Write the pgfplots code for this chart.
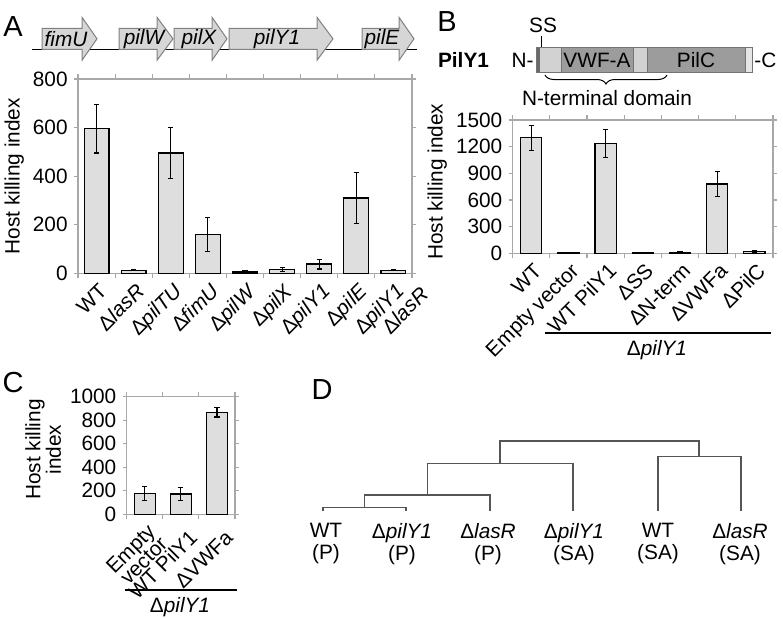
\documentclass[border=0pt]{standalone}
\usepackage{fontspec}
\setmainfont{Liberation Sans}
\usepackage{pgfplots}
\usepackage{pgfplotstable}
\pgfplotsset{compat=1.18}
\usetikzlibrary{decorations.pathreplacing}
\newcommand\tf{\fontsize{10.4}{11.2}\selectfont}
\newcommand\D{Δ}
\newcommand\lo[1]{\raisebox{-4pt}[\height][\depth]{#1}}
\definecolor{barfill}{HTML}{DEDEDE}
\definecolor{frame}{HTML}{A8A8A8}
\definecolor{dend}{HTML}{555555}
\definecolor{genefill}{HTML}{D6D6D6}
\definecolor{dom}{HTML}{9C9C9C}
\definecolor{domlight}{HTML}{D2D2D2}
\definecolor{domend}{HTML}{E6E6E6}
\definecolor{ssdark}{HTML}{6A6A6A}

\pgfplotstableread{
x y e
0 595 100
1 13 3
2 495 105
3 160 70
4 5 6
5 17 8
6 38 20
7 310 105
8 13 3
}\dataA
\pgfplotstableread{
x y e
0 1300 140
1 5 4
2 1235 155
3 3 3
4 12 5
5 780 140
6 18 10
}\dataB
\pgfplotstableread{
x y e
0 178 58
1 172 55
2 867 40
}\dataC

\pgfplotsset{
  panel/.style={
    scale only axis, clip=false,
    ymin=0, axis line style={draw=frame, line width=0.6pt},
    ybar, bar shift=0pt,
    /pgf/number format/assume math mode=true,
    /pgf/number format/1000 sep={},
    scaled y ticks=false,
    tick align=outside, major tick length=2pt, minor tick length=2.5pt,
    major x tick style={draw=none},
    minor x tick style={draw=frame, line width=0.6pt},
    y tick style={draw=frame, line width=0.6pt},
    yticklabel style={font=\tf, inner sep=1pt, xshift=-2pt},
    xticklabel style={font=\tf, rotate=45, anchor=north east, align=right, inner sep=1pt, yshift=-1pt},
    ylabel style={font=\tf},
    ymajorgrids=false,
  },
  barplot/.style={fill=barfill, draw=black, line width=0.6pt,
    error bars/.cd, y dir=both, y explicit,
    error bar style={black, line width=0.6pt},
    error mark options={rotate=90, mark size=1.3pt, black, line width=0.6pt}},
}

\begin{document}
\begin{tikzpicture}
\path[use as bounding box] (0,0) rectangle (391.5pt,308.5pt);

% ---------- background axis in pixel coordinates (diagrams, dendrogram) ----------
\begin{axis}[
  at={(0,0)}, anchor=south west, scale only axis,
  width=391.5pt, height=308.5pt,
  xmin=0, xmax=783, ymin=0, ymax=617, y dir=reverse,
  hide axis, clip=false]
% panel letters
\node[font=\fontsize{14.5}{16}\selectfont] at (axis cs:13,27) {A};
\node[font=\fontsize{14.5}{16}\selectfont] at (axis cs:447,22) {B};
\node[font=\fontsize{14.5}{16}\selectfont] at (axis cs:13,383) {C};
\node[font=\fontsize{14.5}{16}\selectfont] at (axis cs:322,390) {D};

% gene map
\addplot[black, line width=0.6pt, forget plot] coordinates {(32,49.5) (417,49.5)};
\addplot[fill=genefill, draw=gray, line width=0.5pt] coordinates {(42,28.3) (82,28.3) (82,17.3) (97,38.8) (82,60.3) (82,49.3) (42,49.3)} -- cycle;
\addplot[fill=genefill, draw=gray, line width=0.5pt] coordinates {(119,28.3) (157,28.3) (157,17.3) (173,38.8) (157,60.3) (157,49.3) (119,49.3)} -- cycle;
\addplot[fill=genefill, draw=gray, line width=0.5pt] coordinates {(174,28.3) (212,28.3) (212,17.3) (227,38.8) (212,60.3) (212,49.3) (174,49.3)} -- cycle;
\addplot[fill=genefill, draw=gray, line width=0.5pt] coordinates {(229,28.3) (317,28.3) (317,17.3) (333,38.8) (317,60.3) (317,49.3) (229,49.3)} -- cycle;
\addplot[fill=genefill, draw=gray, line width=0.5pt] coordinates {(362,28.3) (399,28.3) (399,17.3) (414,38.8) (399,60.3) (399,49.3) (362,49.3)} -- cycle;
\node[font=\tf\itshape] at (axis cs:66,39) {fimU};
\node[font=\tf\itshape] at (axis cs:144,39) {pilW};
\node[font=\tf\itshape] at (axis cs:199,39) {pilX};
\node[font=\tf\itshape] at (axis cs:277,39) {pilY1};
\node[font=\tf\itshape] at (axis cs:382,39) {pilE};

% PilY1 domain diagram
\addplot[fill=ssdark, draw=none] coordinates {(536,47) (540,47) (540,72) (536,72)} -- cycle;
\addplot[fill=domlight, draw=none] coordinates {(540,47) (561,47) (561,72) (540,72)} -- cycle;
\addplot[fill=dom, draw=none] coordinates {(561,47) (633,47) (633,72) (561,72)} -- cycle;
\addplot[fill=domlight, draw=none] coordinates {(633,47) (647,47) (647,72) (633,72)} -- cycle;
\addplot[fill=dom, draw=none] coordinates {(647,47) (745,47) (745,72) (647,72)} -- cycle;
\addplot[fill=domend, draw=none] coordinates {(745,47) (752,47) (752,72) (745,72)} -- cycle;
\addplot[draw=gray!90!black, line width=0.5pt] coordinates {(536,47) (752,47) (752,72) (536,72)} -- cycle;
\addplot[draw=gray!90!black, line width=0.5pt] coordinates {(561,47) (561,72)};
\addplot[draw=gray!90!black, line width=0.5pt] coordinates {(633,47) (633,72)};
\addplot[draw=gray!90!black, line width=0.5pt] coordinates {(647,47) (647,72)};
\addplot[draw=gray!90!black, line width=0.5pt] coordinates {(745,47) (745,72)};
\addplot[draw=black, line width=0.5pt] coordinates {(541,36) (541,47)};
\node[font=\tf] at (axis cs:543,25) {SS};
\node[font=\tf\bfseries, anchor=east] at (axis cs:496,60) {PilY1};
\node[font=\tf, anchor=east, inner sep=0pt] at (axis cs:534,60) {N-};
\node[font=\tf, anchor=west, inner sep=0pt] at (axis cs:754,60) {-C};
\node[font=\tf] at (axis cs:597,60) {VWF-A};
\node[font=\tf] at (axis cs:696,60) {PilC};
\draw[decorate, decoration={brace, mirror, amplitude=4.5pt}, line width=0.5pt] (axis cs:545,75) -- (axis cs:667,75);
\node[font=\tf] at (axis cs:607,98) {N-terminal domain};

% group lines under B and C
\addplot[black, line width=0.8pt] coordinates {(545,332.7) (771,332.7)};
\node[font=\tf] at (axis cs:657,350) {\D\textit{pilY1}};
\addplot[black, line width=0.8pt] coordinates {(125,590) (237,590)};
\node[font=\tf] at (axis cs:180,607) {\D\textit{pilY1}};

% dendrogram (panel D)
\addplot[dend, line width=0.7pt] coordinates {(323,511) (323,507.3) (406,507.3) (406,511)};
\addplot[dend, line width=0.7pt] coordinates {(364.3,507.3) (364.3,495) (490,495) (490,511)};
\addplot[dend, line width=0.7pt] coordinates {(427.3,495) (427.3,463.3) (573,463.3) (573,511)};
\addplot[dend, line width=0.7pt] coordinates {(658,511) (658,456.7) (741,456.7) (741,511)};
\addplot[dend, line width=0.7pt] coordinates {(500,463.3) (500,441) (699,441) (699,456.7)};
\node[font=\tf, align=center, anchor=north] at (axis cs:326,516) {WT\\(P)};
\node[font=\tf, align=center, anchor=north] at (axis cs:402,516) {\D\textit{pilY1}\\(P)};
\node[font=\tf, align=center, anchor=north] at (axis cs:488,516) {\D\textit{lasR}\\(P)};
\node[font=\tf, align=center, anchor=north] at (axis cs:574,516) {\D\textit{pilY1}\\(SA)};
\node[font=\tf, align=center, anchor=north] at (axis cs:658,516) {WT\\(SA)};
\node[font=\tf, align=center, anchor=north] at (axis cs:740,516) {\D\textit{lasR}\\(SA)};
\end{axis}

% ---------- Panel A ----------
\begin{axis}[panel,
  at={(39pt,171.85pt)}, anchor=south west,
  width=167pt, height=97.15pt,
  xmin=-0.5, xmax=8.5, ymax=800, ytick={0,200,...,800},
  bar width=0.67,
  xtick={0,...,8},
  minor xtick={-0.5,0.5,...,8.5},
  xticklabels={WT, \D\textit{lasR}, \D\textit{pilTU}, \D\textit{fimU}, \D\textit{pilW}, \D\textit{pilX}, \D\textit{pilY1}, \D\textit{pilE}, {\D\textit{pilY1}\\[-1.5pt]\D\textit{lasR}\kern-7.5pt\null}},
  ylabel={Host killing index},
]
\addplot[barplot] table[x=x, y=y, y error=e] {\dataA};
\end{axis}

% ---------- Panel B ----------
\begin{axis}[panel,
  at={(256.35pt,181.85pt)}, anchor=south west,
  width=130.15pt, height=66.67pt,
  xmin=-0.5, xmax=6.5, ymax=1500, ytick={0,300,...,1500},
  bar width=0.57,
  xtick={0,...,6},
  minor xtick={-0.5,0.5,...,6.5},
  xticklabels={WT, Empty vector, WT PilY1, \D SS, \D N-term, \D VWFa, \D PilC},
  ylabel={Host killing index}, ylabel style={xshift=2.5pt},
]
\addplot[barplot] table[x=x, y=y, y error=e] {\dataB};
\end{axis}

% ---------- Panel C ----------
\begin{axis}[panel,
  at={(63.35pt,51.35pt)}, anchor=south west,
  width=54.15pt, height=58.8pt,
  xmin=-0.5, xmax=2.5, ymax=1000, ytick={0,200,...,1000},
  bar width=0.58,
  xtick={0,...,2},
  minor xtick={-0.5,0.5,...,2.5},
  xticklabels={{Empty\\[-2.5pt]vector}, \lo{WT PilY1}, \lo{\D VWFa}},
  ylabel={Host killing\\[-1pt]index}, ylabel style={align=center, xshift=3pt},
]
\addplot[barplot] table[x=x, y=y, y error=e] {\dataC};
\end{axis}
\end{tikzpicture}
\end{document}
